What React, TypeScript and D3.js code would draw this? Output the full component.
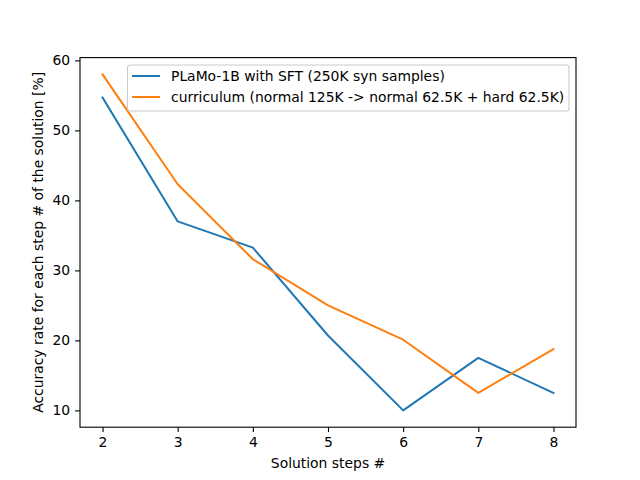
import React, { useEffect, useRef } from 'react';
import * as d3 from 'd3';

const steps = [2, 3, 4, 5, 6, 7, 8];
const sftValues = [54.7, 37.0, 33.25, 20.7, 10.0, 17.5, 12.5];
const curriculumValues = [58.0, 42.3, 31.6, 25.0, 20.1, 12.5, 18.75];
const seriesNames = [
  'PLaMo-1B with SFT (250K syn samples)',
  'curriculum (normal 125K -> normal 62.5K + hard 62.5K)',
];
const seriesColors = ['#1f77b4', '#ff7f0e'];
const xTicks = [2, 3, 4, 5, 6, 7, 8];
const yTicks = [10, 20, 30, 40, 50, 60];

export default function App() {
  const svgRef = useRef<SVGSVGElement>(null);

  useEffect(() => {
    if (!svgRef.current) return;
    document.body.style.margin = '0';

    const width = 640;
    const height = 480;
    const margin = { top: 57.6, right: 64, bottom: 52.8, left: 80 };
    const font = 'DejaVu Sans';

    const svg = d3.select(svgRef.current)
      .attr('width', width)
      .attr('height', height)
      .style('font-family', font);

    svg.selectAll('*').remove();

    const x = d3.scaleLinear().domain([1.7, 8.3]).range([margin.left, width - margin.right]);
    const y = d3.scaleLinear().domain([7.6, 60.4]).range([height - margin.bottom, margin.top]);

    svg.append('rect').attr('width', width).attr('height', height).attr('fill', 'white');

    const series = [sftValues, curriculumValues];
    const line = d3.line<number>()
      .x((_, i) => x(steps[i]))
      .y(d => y(d));

    series.forEach((vals, i) => {
      svg.append('path')
        .datum(vals)
        .attr('fill', 'none')
        .attr('stroke', seriesColors[i])
        .attr('stroke-width', 2)
        .attr('stroke-linejoin', 'round')
        .attr('stroke-linecap', 'square')
        .attr('d', line);
    });

    // Axes
    const xAxis = svg.append('g')
      .attr('transform', `translate(0,${height - margin.bottom})`)
      .call(d3.axisBottom(x).tickValues(xTicks).tickSize(4.9).tickPadding(4.9).tickFormat(d3.format('d')));
    const yAxis = svg.append('g')
      .attr('transform', `translate(${margin.left},0)`)
      .call(d3.axisLeft(y).tickValues(yTicks).tickSize(4.9).tickPadding(4.9).tickFormat(d3.format('d')));

    [xAxis, yAxis].forEach(a => {
      a.select('.domain').remove();
      a.selectAll('line').attr('stroke', 'black').attr('stroke-width', 1.1);
      a.selectAll('text').attr('fill', 'black').style('font-size', '13.9px').style('font-family', font);
    });

    svg.append('rect')
      .attr('x', margin.left)
      .attr('y', margin.top)
      .attr('width', width - margin.left - margin.right)
      .attr('height', height - margin.top - margin.bottom)
      .attr('fill', 'none')
      .attr('stroke', 'black')
      .attr('stroke-width', 1.1);

    // Axis labels
    svg.append('text')
      .attr('x', (margin.left + width - margin.right) / 2)
      .attr('y', 468)
      .attr('text-anchor', 'middle')
      .style('font-size', '13.9px')
      .text('Solution steps #');

    svg.append('text')
      .attr('transform', `translate(43,${(margin.top + height - margin.bottom) / 2}) rotate(-90)`)
      .attr('text-anchor', 'middle')
      .style('font-size', '13.9px')
      .text('Accuracy rate for each step # of the solution [%]');

    // Legend
    const legend = svg.append('g');
    legend.append('rect')
      .attr('x', 127.5)
      .attr('y', 65)
      .attr('width', 441.5)
      .attr('height', 46)
      .attr('rx', 2.8)
      .attr('fill', 'white')
      .attr('fill-opacity', 0.8)
      .attr('stroke', '#cccccc')
      .attr('stroke-width', 1.1);

    seriesNames.forEach((name, i) => {
      const cy = 76 + i * 21;
      legend.append('line')
        .attr('x1', 132).attr('x2', 160)
        .attr('y1', cy).attr('y2', cy)
        .attr('stroke', seriesColors[i])
        .attr('stroke-width', 2);
      legend.append('text')
        .attr('x', 171)
        .attr('y', cy)
        .attr('dy', '0.35em')
        .style('font-size', '13.9px')
        .text(name);
    });
  }, []);

  return <svg ref={svgRef} style={{ display: 'block' }}></svg>;
}
